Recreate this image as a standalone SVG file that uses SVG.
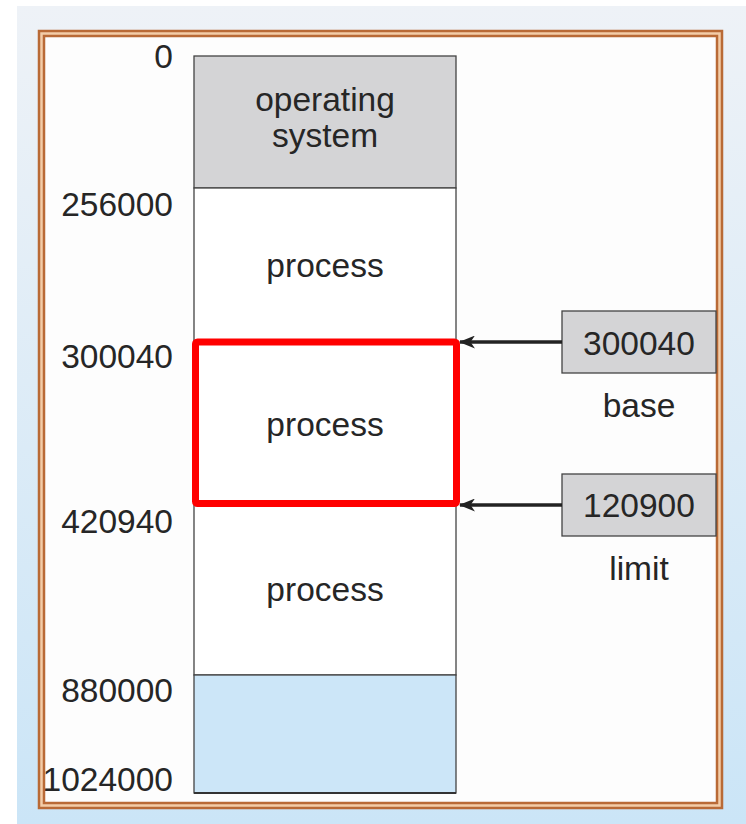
<svg xmlns="http://www.w3.org/2000/svg" width="746" height="824" viewBox="0 0 746 824">
  <defs>
    <linearGradient id="bg" x1="0" y1="0" x2="0" y2="1">
      <stop offset="0" stop-color="#eef2f7"/>
      <stop offset="1" stop-color="#cbe5f7"/>
    </linearGradient>
    <marker id="head" viewBox="0 0 16 13" refX="15" refY="6.5" markerWidth="16" markerHeight="13" markerUnits="userSpaceOnUse" orient="auto">
      <path d="M0,0 L16,6.5 L0,13 L4.5,6.5 Z" fill="#222"/>
    </marker>
    <style>
      .t { font-family: "Liberation Sans", Arial, sans-serif; font-size: 33.5px; fill: #262626; }
      .c { text-anchor: middle; }
      .r { text-anchor: end; }
      .seg { stroke: #444; stroke-width: 1.3; }
      .gray { fill: #d4d4d6; }
      .conn { stroke: #222; stroke-width: 3.5; fill: none; }
    </style>
  </defs>

  <!-- page background -->
  <rect x="0" y="0" width="746" height="824" fill="#ffffff"/>
  <rect x="17" y="6" width="729" height="818" fill="url(#bg)"/>

  <!-- double frame -->
  <rect x="39" y="31" width="683" height="777" fill="#f3cda8" stroke="#b96a36" stroke-width="2.5"/>
  <rect x="44" y="36" width="673" height="767" fill="#fdfdfd" stroke="#b96a36" stroke-width="2.5"/>

  <!-- memory column -->
  <g id="os">
    <rect class="gray seg" x="194" y="56" width="262" height="132"/>
    <text class="t c" x="325" y="111">operating</text>
    <text class="t c" x="325" y="147">system</text>
  </g>
  <g id="process1">
    <rect class="seg" x="194" y="188" width="262" height="153" fill="#ffffff"/>
    <text class="t c" x="325" y="277">process</text>
  </g>
  <g id="process3">
    <rect class="seg" x="194" y="504" width="262" height="171" fill="#ffffff"/>
    <text class="t c" x="325" y="601">process</text>
  </g>
  <g id="free">
    <rect x="194" y="675" width="262" height="118" fill="#cce6f8" stroke="#444" stroke-width="1.3"/>
    <line x1="194" y1="793" x2="456" y2="793" stroke="#333" stroke-width="2.2"/>
  </g>
  <g id="process2">
    <rect x="195.5" y="342" width="261" height="161.5" rx="2" fill="#ffffff" stroke="#ff0000" stroke-width="7"/>
    <text class="t c" x="325" y="436">process</text>
  </g>

  <!-- address labels -->
  <g id="addresses">
    <text class="t r" x="173" y="68">0</text>
    <text class="t r" x="173" y="216">256000</text>
    <text class="t r" x="173" y="368">300040</text>
    <text class="t r" x="173" y="533">420940</text>
    <text class="t r" x="173" y="702">880000</text>
    <text class="t r" x="173" y="791">1024000</text>
  </g>

  <!-- registers -->
  <g id="base">
    <rect class="gray seg" x="562" y="311" width="154" height="62"/>
    <text class="t c" x="639" y="355">300040</text>
    <text class="t c" x="639" y="417">base</text>
  </g>
  <g id="limit">
    <rect class="gray seg" x="562" y="474" width="154" height="62"/>
    <text class="t c" x="639" y="517">120900</text>
    <text class="t c" x="639" y="580">limit</text>
  </g>

  <!-- connectors -->
  <g id="connectors">
    <line class="conn" x1="562" y1="342" x2="460" y2="342" marker-end="url(#head)"/>
    <line class="conn" x1="562" y1="505" x2="460" y2="505" marker-end="url(#head)"/>
  </g>
</svg>
